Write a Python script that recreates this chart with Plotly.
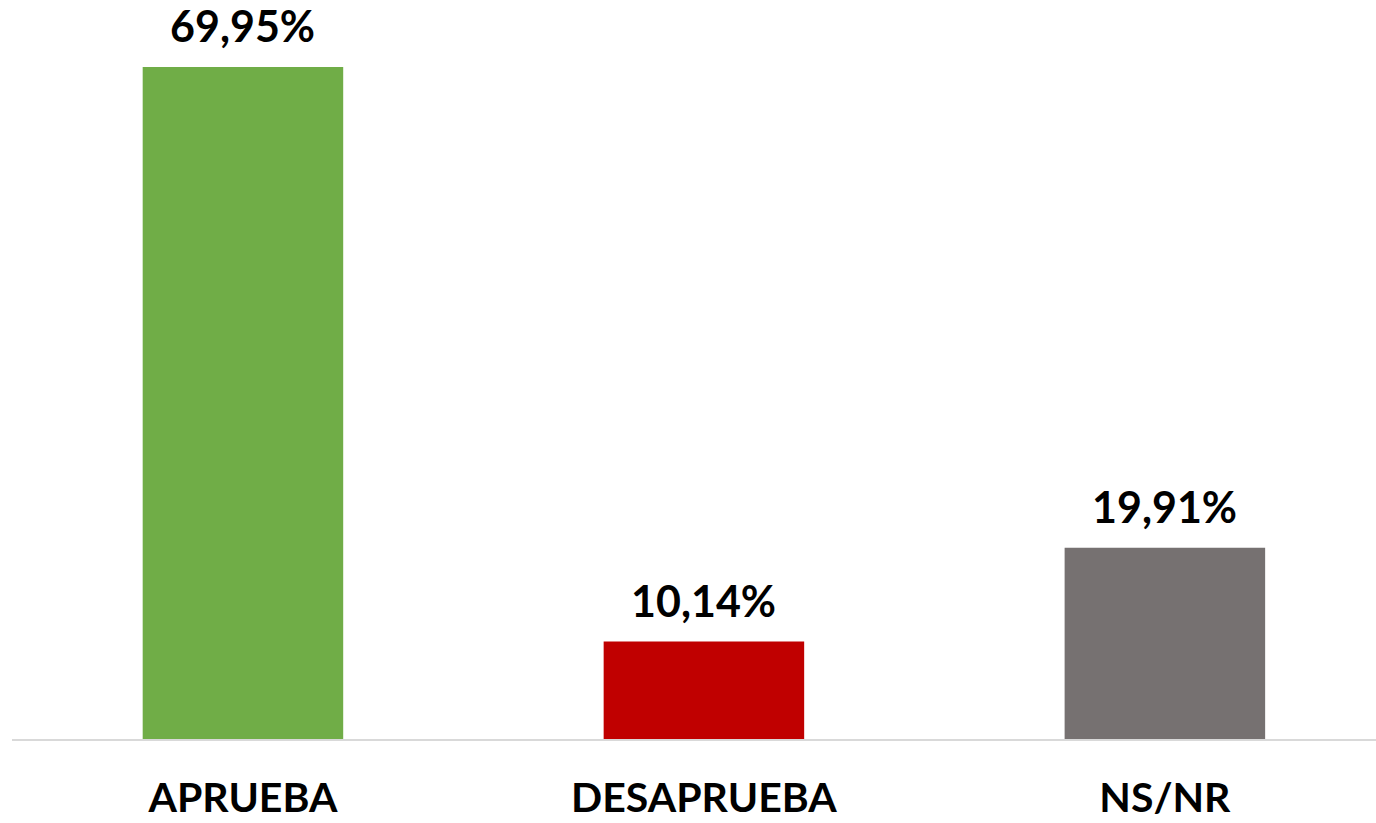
import plotly.graph_objects as go

categories = ["APRUEBA", "DESAPRUEBA", "NS/NR"]
values = [69.95, 10.14, 19.91]
labels = ["69,95%", "10,14%", "19,91%"]
colors = ["#70AD47", "#C00000", "#767171"]

x_pos = list(range(len(categories)))

fig = go.Figure()
fig.add_trace(go.Bar(
    x=x_pos, y=values, width=0.435,
    marker=dict(color=colors, line=dict(width=0)),
    hoverinfo="skip",
))

for xi, v, t in zip(x_pos, values, labels):
    fig.add_annotation(x=xi, y=v, text=t, showarrow=False, yanchor="bottom",
                       yshift=14, font=dict(family="Lato", size=43, color="black",
                                            weight="bold"))

fig.update_layout(
    width=1376, height=823,
    margin=dict(l=12, r=0, t=0, b=84, autoexpand=False),
    paper_bgcolor="white", plot_bgcolor="white",
    showlegend=False,
    xaxis=dict(range=[-0.501, 2.458], tickmode="array", tickvals=x_pos,
               ticktext=[f"<b>{c}</b>" for c in categories],
               tickfont=dict(family="Lato", size=41, color="black"),
               showline=True, linecolor="#D9D9D9", linewidth=2,
               showgrid=False, zeroline=False, ticks="", ticklabelstandoff=22,
               automargin=False),
    yaxis=dict(range=[0, 76.92], visible=False, showgrid=False, zeroline=False),
)

fig.write_html("out.html", config={"displayModeBar": False},
               post_script="document.body.style.margin='0';document.body.style.overflow='hidden';")
